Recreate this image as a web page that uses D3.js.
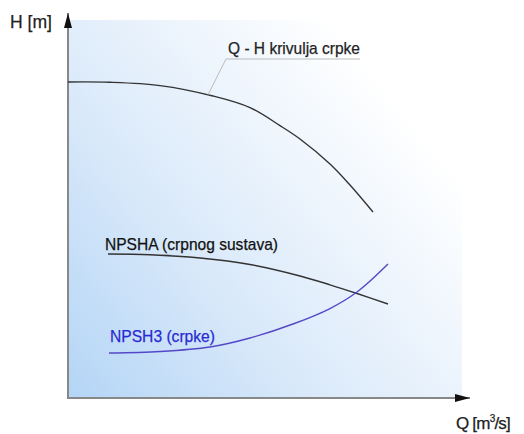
<!DOCTYPE html>
<html>
<head>
<meta charset="utf-8">
<script src="https://cdn.jsdelivr.net/npm/d3@7"></script>
<style>
  body { margin: 0; background: #fff; }
  text { font-family: "Liberation Sans", Arial, sans-serif; }
</style>
</head>
<body>
<div id="chart"></div>
<script>
// curve values (Q and H in arbitrary units)
var qhQ    = [0, 1.05, 2.3, 3.625, 4.55, 5.3, 5.8, 6.55, 7.05, 7.625];
var qhH    = [8.316, 8.308, 8.221, 7.947, 7.642, 7.168, 6.816, 6.158, 5.605, 4.895];
var npshaQ = [1.0, 2.05, 3.3, 4.55, 5.8, 6.55, 7.225, 8.0];
var npshaH = [3.789, 3.768, 3.684, 3.513, 3.211, 2.979, 2.75, 2.474];
var npsh3Q = [1.025, 2.3, 3.55, 4.55, 5.625, 6.55, 7.225, 8.0];
var npsh3H = [1.184, 1.224, 1.342, 1.579, 1.947, 2.355, 2.789, 3.526];

var labels = {
  qh: "Q - H krivulja crpke",
  npsha: "NPSHA (crpnog sustava)",
  npsh3: "NPSH3 (crpke)",
  yAxis: "H [m]"
};

var width = 524, height = 434;

var x = d3.scaleLinear().domain([0, 10]).range([68, 468]);
var y = d3.scaleLinear().domain([0, 10]).range([398, 18]);

var svg = d3.select("#chart").append("svg")
    .attr("width", width)
    .attr("height", height);

var defs = svg.append("defs");
var grad = defs.append("linearGradient")
    .attr("id", "bg")
    .attr("x1", "0").attr("y1", "1")
    .attr("x2", "0.9").attr("y2", "0.3");
grad.append("stop").attr("offset", "0").attr("stop-color", "#b4d5f6");
grad.append("stop").attr("offset", "0.45").attr("stop-color", "#dbeafa");
grad.append("stop").attr("offset", "1").attr("stop-color", "#ffffff");

defs.append("marker")
    .attr("id", "arrow")
    .attr("viewBox", "0 0 10 10")
    .attr("refX", 10).attr("refY", 5)
    .attr("markerWidth", 15).attr("markerHeight", 8)
    .attr("markerUnits", "userSpaceOnUse")
    .attr("orient", "auto")
    .attr("preserveAspectRatio", "none")
    .append("path")
    .attr("d", "M0,0 L10,5 L0,10 z")
    .attr("fill", "#111");

// shaded plot area
svg.append("rect")
    .attr("x", x(0))
    .attr("y", y(10) + 2)
    .attr("width", x(10) - x(0) - 6)
    .attr("height", y(0) - y(10) - 2)
    .attr("fill", "url(#bg)");

// axes
svg.append("line")
    .attr("x1", x(0)).attr("y1", y(0))
    .attr("x2", x(0)).attr("y2", 13)
    .attr("stroke", "#888").attr("stroke-width", 2)
    .attr("marker-end", "url(#arrow)");
svg.append("line")
    .attr("x1", x(0) - 1).attr("y1", y(0))
    .attr("x2", 470).attr("y2", y(0))
    .attr("stroke", "#888").attr("stroke-width", 2)
    .attr("marker-end", "url(#arrow)");

var line = d3.line()
    .x(function (d) { return x(d[0]); })
    .y(function (d) { return y(d[1]); })
    .curve(d3.curveCatmullRom.alpha(0.5));

function pairs(a, b) { return a.map(function (v, i) { return [v, b[i]]; }); }

svg.append("path")
    .attr("d", line(pairs(qhQ, qhH)))
    .attr("fill", "none").attr("stroke", "#333").attr("stroke-width", 1.4);

svg.append("path")
    .attr("d", line(pairs(npshaQ, npshaH)))
    .attr("fill", "none").attr("stroke", "#333").attr("stroke-width", 1.4);

svg.append("path")
    .attr("d", line(pairs(npsh3Q, npsh3H)))
    .attr("fill", "none").attr("stroke", "#5548c8").attr("stroke-width", 1.4);

// leader for Q-H label
svg.append("polyline")
    .attr("points", [[x(3.5), y(7.98)], [226, 59], [360, 59]].join(" "))
    .attr("fill", "none").attr("stroke", "#bbb").attr("stroke-width", 1);

function label(tx, ty, size, len, color, str) {
  return svg.append("text")
      .attr("x", tx).attr("y", ty)
      .attr("font-size", size)
      .attr("textLength", len)
      .attr("lengthAdjust", "spacingAndGlyphs")
      .attr("fill", color)
      .attr("stroke", color).attr("stroke-width", 0.25)
      .text(str);
}

label(228, 54, 17, 132, "#222", labels.qh);
label(105, 250, 17, 173, "#111", labels.npsha);
label(110, 342, 17, 105, "#2a2ad2", labels.npsh3);
label(10, 28, 18, 42, "#222", labels.yAxis);

var xl = svg.append("text")
    .attr("x", 456).attr("y", 429)
    .attr("font-size", 17).attr("letter-spacing", -0.8)
    .attr("fill", "#222")
    .attr("stroke", "#222").attr("stroke-width", 0.25);
xl.append("tspan").text("Q [m");
xl.append("tspan").attr("dy", -7).attr("font-size", 10).text("3");
xl.append("tspan").attr("dy", 7).text("/s]");
</script>
</body>
</html>
